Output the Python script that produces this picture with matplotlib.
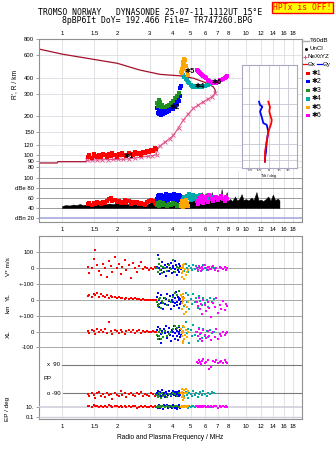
import matplotlib
matplotlib.use('Agg')
import matplotlib.pyplot as plt
from matplotlib.patches import Rectangle
from matplotlib.lines import Line2D
from matplotlib.ticker import NullLocator

plt.rcParams['font.family'] = ['Liberation Sans', 'DejaVu Sans']
plt.rcParams['axes.linewidth'] = 0.8

# ---------------- data ----------------
freq_ticks_top = [1, 1.5, 2, 3, 4, 5, 6, 7, 8, 10, 12, 14, 16, 18]
freq_ticks_mid = [1, 1.5, 2, 3, 4, 5, 6, 7, 8, 9, 10, 12, 14, 16, 18]
range_ticks = [80, 90, 100, 120, 150, 200, 300, 400, 600, 800]
db_ticks = [20, 40, 60, 80, 100]
db_labels = ['dBn 20', '40', '60', 'dBe 80', '100']
tilt_ticks = [-20, -10, 0, 10, 20]

# true-height profile (plasma frequency MHz, height km)
prof_bot_f = [0.75, 0.94, 0.95, 1.35, 1.36]
prof_bot_h = [86.4, 86.4, 88.4, 88.4, 90.7]
nx_f = [1.36, 1.45, 1.55, 1.66, 1.78, 1.90, 2.02, 2.15, 2.30, 2.49, 2.70, 2.94, 3.10, 3.27,
        3.23, 3.40, 3.63, 3.85, 4.03, 4.30, 4.56, 4.85, 5.17, 5.50, 5.86, 6.20, 6.51, 6.79]
nx_h = [90.7, 90.9, 91.2, 91.5, 91.8, 92.0, 92.2, 92.3, 93.0, 94.4, 95.8, 97.5, 98.6, 100,
        109.6, 117, 126, 134, 142, 163, 186, 208, 230, 245, 259, 272, 283, 302]
top_f = [6.79, 6.80, 6.65, 6.20, 5.17, 4.38, 3.41, 2.65, 2.0, 1.0, 0.75]
top_h = [302, 319, 338, 360, 396, 413, 424, 458, 517, 610, 668]

# background amplitude (T60dB)
noise_f = [1.00, 1.05, 1.10, 1.15, 1.20, 1.25, 1.30, 1.36, 1.42, 1.50, 1.60, 1.70, 1.80, 1.90,
           2.00, 2.10, 2.25, 2.40, 2.55, 2.70, 2.85, 3.00, 3.10, 3.20, 3.30, 3.50, 3.70, 3.90,
           4.10, 4.30, 4.50, 4.70, 4.90, 5.05, 5.20, 5.28, 5.40, 5.55, 5.65, 5.74, 5.85, 5.95,
           6.03, 6.15, 6.30, 6.40, 6.51, 6.65, 6.80, 6.95, 7.10, 7.25, 7.37, 7.50, 7.65, 7.85,
           8.00, 8.20, 8.40, 8.72, 8.95, 9.20, 9.46, 9.70, 10.0, 10.3, 10.7, 11.0, 11.4, 11.7,
           12.0, 12.4, 12.8, 13.2, 13.6, 14.0, 14.4, 14.9, 15.2]
noise_db = [44, 46, 45, 47, 46, 48, 46, 47, 45, 47, 48, 47, 49, 48,
            50, 49, 48, 47, 48, 47, 46, 50, 52, 47, 48, 50, 52, 51,
            52, 50, 51, 53, 55, 58, 54, 66, 56, 60, 55, 72, 58, 62,
            70, 57, 62, 58, 72, 56, 62, 55, 60, 57, 78, 58, 56, 72,
            55, 58, 54, 63, 55, 58, 68, 56, 58, 55, 61, 56, 72, 55,
            57, 54, 58, 63, 55, 67, 56, 59, 55]

# echo groups *1 .. *6: frequency, R', amplitude, V*, YL, XL, PP, EP
s1_f = [1.38, 1.41, 1.45, 1.49, 1.52, 1.55, 1.59, 1.63, 1.67, 1.71, 1.75, 1.79,
        1.84, 1.88, 1.93, 1.98, 2.03, 2.08, 2.13, 2.19, 2.24, 2.30, 2.36, 2.42,
        2.48, 2.55, 2.61, 2.68, 2.75, 2.82, 2.90, 2.97, 3.05, 3.12, 3.19, 3.26]
s1_r = [97, 99, 95, 101, 98, 96, 100, 97, 102, 99, 96, 101,
        98, 103, 100, 97, 102, 99, 104, 100, 98, 103, 101, 99,
        105, 102, 104, 100, 106, 103, 108, 105, 110, 107, 113, 111]
s1_db = [48, 50, 47, 51, 49, 52, 50, 48, 53, 51, 55, 58,
         60, 54, 57, 52, 55, 50, 53, 56, 51, 54, 49, 52,
         50, 53, 48, 51, 49, 47, 52, 55, 57, 54, 50, 48]
s1_v = [10, -30, 5, 60, 115, 20, -15, -40, 30, 5, -55, 45,
        15, -20, 70, 0, 25, -35, 10, 50, -10, 20, -60, 35,
        5, -25, 15, 40, -5, 10, 0, -10, 5, -3, 8, 2]
s1_yl = [25, 35, 18, 40, 30, 45, 22, 38, 28, 20, 32, 15,
         25, 18, 22, 12, 20, 10, 15, 8, 14, 6, 12, 5,
         10, 4, 8, 3, 6, 2, 1, 0, 3, -1, 2, 0]
s1_xl = [5, -8, 12, 2, -12, 18, 0, 8, -5, 15, -10, 62,
         6, -15, 10, 2, -8, 14, 0, -12, 6, 10, -4, 8,
         -10, 3, 12, -6, 5, 0, 2, -3, 0, 4, -2, 1]
s1_pp = [-95, -110, -85, -100, -120, -90, -80, -105, -95, -115, -88, -100,
         -92, -125, -85, -98, -110, -78, -102, -90, -115, -95, -85, -100,
         -108, -90, -96, -82, -104, -92, -100, -110, -88, -95, -105, -92]
s1_ep = [12, 15, 9, 18, 11, 14, 8, 16, 10, 13, 7, 19,
         12, 9, 15, 11, 8, 14, 10, 17, 9, 12, 8, 13,
         11, 6, 10, 14, 9, 12, 7, 10, 13, 8, 11, 9]

s2_f = [3.30, 3.32, 3.34, 3.36, 3.38, 3.41, 3.44, 3.47, 3.50, 3.54, 3.58, 3.62,
        3.66, 3.70, 3.75, 3.80, 3.85, 3.90, 3.95, 4.00, 4.00, 4.05, 4.10, 4.10,
        4.15, 4.20, 4.20, 4.25, 4.30, 4.30, 4.35, 4.40, 4.40, 4.45]
s2_r = [230, 212, 236, 207, 222, 210, 226, 206, 216, 209, 218, 212,
        220, 215, 226, 220, 232, 228, 238, 226, 258, 245, 236, 268,
        252, 248, 285, 272, 262, 305, 295, 288, 330, 345]
s2_db = [58, 64, 55, 66, 60, 53, 67, 62, 57, 65, 59, 54,
         68, 61, 56, 66, 63, 58, 67, 55, 62, 69, 57, 64,
         60, 66, 53, 63, 58, 67, 61, 56, 65, 60]
s2_v = [10, -20, 85, 5, 30, -35, 15, -10, 40, 0, -25, 20,
        -45, 10, 25, -15, 5, 35, -30, 0, 15, -20, 45, -5,
        20, -40, 10, -10, 30, 0, -25, 15, 5, -5]
s2_yl = [20, -30, 45, 0, -45, 10, -20, 30, -10, -55, 15, -25,
         5, 40, -35, -5, 25, -60, 0, -15, 35, -40, 10, -20,
         50, -10, -30, 20, -50, 0, 15, -25, 5, -10]
s2_xl = [10, -25, 30, -50, 0, 20, -15, -70, 5, -35, 15, -10,
         40, -40, -5, 25, -20, -60, 10, -30, 0, 35, -45, -10,
         20, -25, 5, -55, -15, 30, -5, -35, 10, -20]
s2_pp = [-85, -100, -75, -95, -110, -80, -90, -105, -70, -98, -88, -112,
         -82, -95, -100, -78, -92, -108, -86, -96, -74, -102, -90, -84,
         -110, -94, -80, -98, -88, -104, -76, -92, -100, -86]
s2_ep = [8, 14, 5, 20, 10, 6, 16, 9, 12, 4, 18, 7,
         11, 22, 6, 13, 9, 15, 5, 10, 25, 8, 12, 6,
         17, 9, 4, 14, 7, 11, 19, 6, 10, 8]

s3_f = [3.30, 3.32, 3.35, 3.38, 3.42, 3.46, 3.50, 3.55, 3.62, 3.70, 3.80, 3.90, 4.00, 4.10, 4.20, 4.30]
s3_r = [255, 240, 266, 248, 258, 238, 246, 235, 238, 242, 246, 252, 262, 275, 290, 305]
s3_db = [47, 50, 45, 49, 52, 46, 48, 51, 47, 44, 49, 46, 50, 48, 45, 47]
s3_v = [5, -20, 25, 60, -10, 15, -30, 10, 0, -15, 20, -5, 55, -25, 10, 0]
s3_yl = [-10, -40, 5, -25, 15, -50, -5, -20, 10, -30, 0, -15, 20, 45, 30, 55]
s3_xl = [-20, -45, 0, -30, 10, -50, -10, -35, 5, -25, -15, 0, 15, 35, 25, 40]
s3_pp = [-100, -115, -90, -108, -95, -120, -85, -105, -98, -112, -92, -100, -88, -95, -105, -90]
s3_ep = [10, 14, 8, 12, 16, 9, 11, 13, 7, 15, 10, 12, 8, 14, 11, 9]

s4_f = [4.55, 4.62, 4.70, 4.78, 4.85, 4.92, 5.00, 5.08, 5.17, 5.26, 5.35, 5.45,
        5.55, 5.65, 5.76, 5.87, 5.98, 6.10, 6.25, 6.40, 6.55, 6.72]
s4_r = [420, 405, 392, 380, 372, 360, 352, 345, 340, 338, 342, 336,
        344, 340, 338, 345, 342, 348, 352, 358, 364, 372]
s4_db = [58, 62, 55, 65, 60, 68, 57, 63, 66, 59, 64, 55, 61, 67, 58, 63, 56, 62, 60, 65, 58, 62]
s4_v = [10, -15, 25, 0, -20, 15, 5, -10, 20, -5, 12, -18, 8, 0, -12, 18, 3, -8, 10, -3, 6, 0]
s4_yl = [20, -40, 45, -10, 30, -60, 5, -25, 40, -15, 10, -50, 25, -5, -35, 15, -20, 0, -45, 10, -10, 5]
s4_xl = [30, -50, 60, -10, 20, -75, 10, -30, 45, -20, 0, -60, 25, -15, -40, 15, -25, 5, -35, 10, -10, 0]
s4_pp = [-90, -110, -80, -100, -120, -85, -95, -105, -75, -98, -88, -115,
         -92, -82, -100, -78, -95, -105, -86, -92, -80, -88]
s4_ep = [12, 8, 15, 10, 6, 13, 9, 16, 11, 7, 14, 10, 8, 12, 9, 15, 11, 7, 13, 10, 9, 12]

s5_f = [4.46, 4.50, 4.53, 4.49, 4.57, 4.52, 4.62, 4.58, 4.66, 4.55, 4.70, 4.48, 4.75, 4.82]
s5_r = [440, 470, 500, 455, 530, 480, 560, 510, 545, 465, 495, 435, 450, 420]
s5_db = [45, 50, 43, 54, 47, 42, 49, 52, 44, 48, 56, 46, 51, 43]
s5_v = [0, -30, 20, -55, 10, -15, 25, -65, -5, 15, -40, 5, -20, -10]
s5_yl = [30, -20, 10, -60, 40, -5, -90, 15, -35, 0, -75, 20, -45, -10]
s5_xl = [20, -30, 40, -10, -60, 5, -45, 30, -20, -75, 10, -5, -35, 0]
s5_pp = [-90, -60, -110, -80, -130, -95, -70, -120, -85, -100, -65, -115, -90, -75]
s5_ep = [10, 12, 9, 14, 11, 8, 13, 10, 12, 9, 15, 11, 10, 13]

s6_f = [5.40, 5.45, 5.52, 5.60, 5.68, 5.76, 5.85, 5.95, 6.05, 6.18, 6.30, 6.45,
        6.60, 6.75, 6.90, 7.05, 7.20, 7.35, 7.50, 7.65, 7.80, 7.90]
s6_r = [458, 448, 440, 432, 425, 419, 410, 402, 394, 385, 377, 370,
        364, 361, 366, 372, 380, 386, 393, 400, 408, 413]
s6_db = [55, 48, 60, 52, 58, 64, 50, 56, 62, 53, 66, 58, 54, 60, 63, 57, 61, 65, 59, 55, 62, 58]
s6_v = [5, -10, 15, 0, -15, 10, -5, 20, 0, -12, 8, -3, 12, -8, 5, -15, 10, 0, -6, 8, -10, 2]
s6_yl = [-10, -40, 10, -60, -25, -90, 0, -35, -70, -15, -50, -110, -20, -45, 15, -80, -30, -55, -5, -65, -25, -40]
s6_xl = [0, -30, 20, -50, -10, -60, 10, -20, -40, 5, -25, -55, -5, -35, 15, -45, -15, -30, 0, -20, -10, -5]
s6_pp = [110, 100, 120, 105, 95, 115, 125, 100, 108, 118, 60, 75, 112, 105, 120, 98, 110, 115, 102, 122, 108, 100]
s6_ep = [12, 9, 15, 8, 11, 14, 7, 13, 10, 16, 9, 12, 8, 14, 11, 6, 13, 10, 15, 9, 12, 10]

series_names = ['✱1', '✱2', '✱3', '✱4', '✱5', '✱6']
series_colors = ['#ff0000', '#0000ff', '#1f8f1f', '#00a8a8', '#ffa500', '#ff00ff']

# tilt profile (height km, tilt deg)
tilt_h = [259, 244, 237, 217, 197, 187, 176, 171, 151, 126, 105, 94, 88]
tilt_x = [-0.5, 0.5, 1.2, 0.5, 2, 3, 2.5, 2, -0.5, -2.2, -3.9, -3.9, -3.9]
tilt_y = [-10, -9, -6.7, -9, -7.3, -6.5, -5.6, -2.2, -0.5, -2.2, -2.9, -3.9, -3.9]

# ---------------- layout helpers ----------------
W, H = 335, 451
fig = plt.figure(figsize=(W / 100, H / 100), dpi=100)
FMIN, FMAX = 0.75, 20.15
TS = 4.3
GRID = '#dcdce4'
SPINE = '#909090'


def rect(x0, y0, x1, y1):
    return [x0 / W, 1 - y1 / H, (x1 - x0) / W, (y1 - y0) / H]


def ftext(px, py, s, **kw):
    return fig.text(px / W, 1 - py / H, s, **kw)


def flabel(t):
    return '1.5' if t == 1.5 else str(int(t))


def freq_axis(ax):
    ax.set_xscale('log')
    ax.set_xlim(FMIN, FMAX)
    ax.xaxis.set_minor_locator(NullLocator())
    for s in ax.spines.values():
        s.set_color(SPINE)


groups = [
    (s1_f, s1_r, s1_db, s1_v, s1_yl, s1_xl, s1_pp, s1_ep),
    (s2_f, s2_r, s2_db, s2_v, s2_yl, s2_xl, s2_pp, s2_ep),
    (s3_f, s3_r, s3_db, s3_v, s3_yl, s3_xl, s3_pp, s3_ep),
    (s4_f, s4_r, s4_db, s4_v, s4_yl, s4_xl, s4_pp, s4_ep),
    (s5_f, s5_r, s5_db, s5_v, s5_yl, s5_xl, s5_pp, s5_ep),
    (s6_f, s6_r, s6_db, s6_v, s6_yl, s6_xl, s6_pp, s6_ep),
]
draw_order = [0, 1, 2, 3, 4, 5]
MS = 2.0

# ---------------- titles ----------------
mono = 'DejaVu Sans Mono'
ftext(150, 12.3, 'TROMSO NORWAY   DYNASONDE 25-07-11 1112UT 15°E', family=mono, size=5.9,
      ha='center', va='center')
ftext(157.5, 20.7, '8pBP6It DoY= 192.466 File= TR747260.BPG', family=mono, size=5.9,
      ha='center', va='center')
fig.add_artist(Rectangle((272 / W, 1 - 12.7 / H), 61 / W, 11 / H, transform=fig.transFigure,
                         facecolor='#ffff00', edgecolor='#ff0000', lw=1.0))
ftext(302.5, 7.4, 'HPTx is OFF!', family=mono, size=5.8, color='#ff0000', ha='center', va='center')

# ---------------- R' panel ----------------
axR = fig.add_axes(rect(39, 39, 302, 171))
freq_axis(axR)
axR.set_yscale('log')
axR.set_ylim(74.8, 800)
axR.yaxis.set_minor_locator(NullLocator())
axR.set_yticks(range_ticks)
axR.set_yticklabels([str(t) for t in range_ticks])
axR.set_xticks(freq_ticks_top)
axR.set_xticklabels([flabel(t) for t in freq_ticks_top])
axR.xaxis.set_ticks_position('top')
axR.tick_params(axis='x', length=0, pad=2.5, labelsize=TS)
axR.tick_params(axis='y', length=2.5, width=0.6, color=SPINE, pad=1, labelsize=TS)
axR.grid(True, color=GRID, lw=0.6)
axR.spines['bottom'].set_visible(False)

axR.plot(prof_bot_f, prof_bot_h, color='#a3102c', lw=0.9)
axR.plot(top_f, top_h, color='#a3102c', lw=0.9)
axR.plot(nx_f, nx_h, color='#e0508a', lw=0.8, marker='x', ms=2.2, mew=0.6)
for i in draw_order:
    g = groups[i]
    axR.plot(g[0], g[1], ls='none', marker='s', ms=2.3, mew=0, color=series_colors[i])
for name, f, r in [('✱1', 2.15, 97), ('✱2', 3.86, 232), ('✱4', 5.25, 342),
                   ('✱5', 4.66, 450), ('✱6', 6.5, 366)]:
    axR.text(f, r, name, fontsize=5.3, fontweight='bold', va='center', ha='left')
ftext(15, 84, "R', R / km", rotation=90, size=4.8, ha='center', va='center')

# tilt inset
axT = fig.add_axes(rect(241.7, 65, 297.3, 168.3))
axT.set_facecolor('white')
axT.set_yscale('log')
axT.set_ylim(78.1, 501.3)
axT.set_xlim(-27.8, 29.2)
axT.yaxis.set_minor_locator(NullLocator())
axT.set_yticks([90, 100, 120, 150, 200, 250, 330])
axT.set_yticklabels([])
axT.set_xticks(tilt_ticks)
axT.set_xticklabels([str(t) for t in tilt_ticks])
axT.tick_params(length=0, pad=0.6, labelsize=2.9)
axT.grid(True, color='#c8c8d4', lw=0.6)
for s in axT.spines.values():
    s.set_color('#a8a8c4')
axT.plot(tilt_y, tilt_h, color='#0000ff', lw=1.3)
axT.plot(tilt_x, tilt_h, color='#ff0000', lw=1.3)
ftext(269, 176.2, 'Tilt / deg', size=2.9, ha='center', va='center')

# right-hand legend
def fline(x0, x1, y, **kw):
    fig.add_artist(Line2D([x0 / W, x1 / W], [1 - y / H, 1 - y / H], transform=fig.transFigure, **kw))

fline(302, 308.5, 40.7, color='#aaaaaa', lw=1.0)
ftext(310, 40.7, 'T60dB', size=4.5, va='center')
fig.add_artist(Line2D([306 / W], [1 - 49 / H], transform=fig.transFigure, marker='s', ms=1.0,
                      color='k', ls='none'))
ftext(309.5, 49, 'UnCl', size=4.5, va='center')
fig.add_artist(Line2D([304.5 / W], [1 - 57 / H], transform=fig.transFigure, marker='+', ms=3,
                      mew=0.7, color='#e0508a', ls='none'))
ftext(308, 57, 'NeXtYZ', size=4.5, va='center')
fline(302.7, 306.7, 64.3, color='#ff0000', lw=0.9)
ftext(307.3, 64.3, 'Θx', size=4.5, va='center')
fline(316.7, 321.7, 64.3, color='#0000ff', lw=0.9)
ftext(322.3, 64.3, 'Θy', size=4.5, va='center')
for i, yy in enumerate([73.3, 81.7, 90.3, 98.9, 107.3, 115.7]):
    fig.add_artist(Rectangle((306.4 / W, 1 - (yy + 1.6) / H), 3.2 / W, 3.2 / H,
                             transform=fig.transFigure, color=series_colors[i], lw=0))
    ftext(311.5, yy, series_names[i], size=5.0, va='center')

# ---------------- amplitude panel ----------------
axD = fig.add_axes(rect(39, 171, 302, 222))
freq_axis(axD)
axD.set_ylim(12, 114)
axD.set_yticks(db_ticks)
axD.set_yticklabels(db_labels)
axD.set_xticks(freq_ticks_mid)
axD.set_xticklabels([flabel(t) for t in freq_ticks_mid])
axD.tick_params(axis='x', length=0, pad=3.5, labelsize=TS)
axD.tick_params(axis='y', length=2.5, width=0.6, color=SPINE, pad=1, labelsize=TS)
axD.spines['top'].set_visible(False)
for t in freq_ticks_mid:
    axD.axvline(t, color=GRID, lw=0.6, zorder=0)
for v in db_ticks[1:]:
    axD.axhline(v, color='#9a9a9a', lw=0.7, zorder=0.5)
axD.axhline(db_ticks[0], color='#aab0e0', lw=1.3, zorder=0.5)
axD.fill_between(noise_f, 40, noise_db, color='black', lw=0.3, zorder=2)
for i in draw_order:
    g = groups[i]
    axD.plot(g[0], g[2], ls='none', marker='s', ms=2.3, mew=0, color=series_colors[i], zorder=3)

# ---------------- lower panel ----------------
LR = rect(39, 236, 302, 419)
axL = fig.add_axes(LR)
freq_axis(axL)
axL.set_ylim(0, 1)
axL.set_yticks([])
axL.set_xticks(freq_ticks_top)
axL.set_xticklabels([flabel(t) for t in freq_ticks_top])
axL.tick_params(axis='x', length=0, pad=3.3, labelsize=TS)
for t in freq_ticks_top:
    axL.axvline(t, color=GRID, lw=0.6, zorder=0)


def overlay(ylim, yscale='linear'):
    a = fig.add_axes(LR)
    a.set_xscale('log')
    a.set_xlim(FMIN, FMAX)
    a.set_yscale(yscale)
    a.set_ylim(*ylim)
    a.patch.set_visible(False)
    for s in a.spines.values():
        s.set_visible(False)
    a.xaxis.set_major_locator(NullLocator())
    a.xaxis.set_minor_locator(NullLocator())
    a.yaxis.set_minor_locator(NullLocator())
    a.tick_params(axis='y', length=2.5, width=0.6, color=SPINE, pad=1, labelsize=TS)
    return a


axV = overlay(((268.3 - 419) / 0.16, (268.3 - 236) / 0.16))
axV.set_yticks([100, 0, -100])
axV.set_yticklabels(['100', '0', '+-100'])
axYL = overlay(((300 - 419) / 0.157, (300 - 236) / 0.157))
axYL.set_yticks([0, -100])
axYL.set_yticklabels(['0', '+-100'])
axXL = overlay(((331.7 - 419) / 0.155, (331.7 - 236) / 0.155))
axXL.set_yticks([0, -100])
axXL.set_yticklabels(['0', '-100'])
ppu = 28.6 / 180
axPP = overlay(((379 - 419) / ppu, (379 - 236) / ppu))
axPP.set_yticks([])
axEP = overlay((10 ** (1 - 12.3 / 5.15), 10 ** (1 + 170.7 / 5.15)), 'log')
axEP.set_yticks([10, 0.1])
axEP.set_yticklabels(['10.', '0.1'])

for a, vals in [(axV, [100, 0, -100]), (axYL, [0, -100]), (axXL, [0, -100])]:
    for v in vals:
        a.axhline(v, color='#a8a8a8', lw=0.7, zorder=0)
axPP.axhline(90, xmin=0.087, color='#7a7a7a', lw=0.8, zorder=0)
axPP.axhline(-90, xmin=0.091, color='#7a7a7a', lw=0.8, zorder=0)
axEP.axhline(10, color='#d0d0dc', lw=1.2, zorder=0)
axEP.axhline(0.1, color='#d0d0dc', lw=1.0, zorder=0)

for i in draw_order:
    g = groups[i]
    c = series_colors[i]
    for a, vals in [(axV, g[3]), (axYL, g[4]), (axXL, g[5]), (axPP, g[6]), (axEP, g[7])]:
        a.plot(g[0], vals, ls='none', marker='s', ms=MS, mew=0, color=c)

ftext(47, 364.7, 'x  90', size=TS, va='center')
ftext(43, 379, 'PP', size=TS, va='center')
ftext(47, 393.3, 'o -90', size=TS, va='center')
for s, yy in [('V* m/s', 267), ('YL', 297.5), ('km', 308.5), ('XL', 334), ('EP / deg', 409)]:
    ftext(8, yy, s, rotation=90, size=4.6, ha='center', va='center')
ftext(170, 437.7, 'Radio and Plasma Frequency / MHz', size=4.8, ha='center', va='center')

fig.savefig('out.png', dpi=100)
